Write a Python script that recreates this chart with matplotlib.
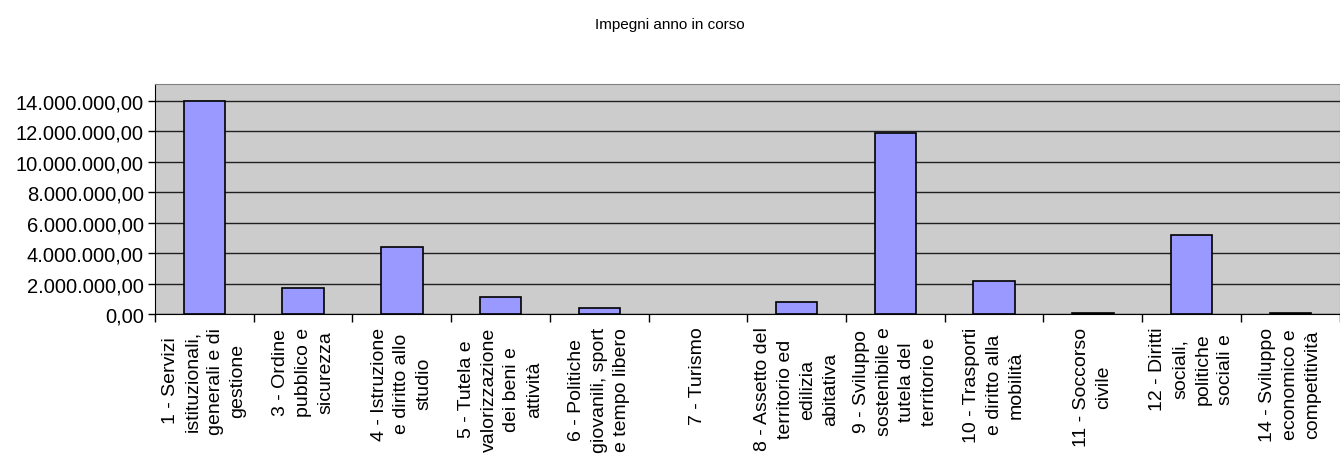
import matplotlib.pyplot as plt
from matplotlib.ticker import FuncFormatter, FixedLocator

plt.rcParams['font.family'] = ['Liberation Sans', 'DejaVu Sans']

# categories (wrapped as in the original sheet)
categories = [
    "1 - Servizi\nistituzionali,\ngenerali e di\ngestione",
    "3 - Ordine\npubblico e\nsicurezza",
    "4 - Istruzione\ne diritto allo\nstudio",
    "5 - Tutela e\nvalorizzazione\ndei beni e\nattività",
    "6 - Politiche\ngiovanili, sport\ne tempo libero",
    "7 - Turismo",
    "8 - Assetto del\nterritorio ed\nedilizia\nabitativa",
    "9 - Sviluppo\nsostenibile e\ntutela del\nterritorio e",
    "10 - Trasporti\ne diritto alla\nmobilità",
    "11 - Soccorso\ncivile",
    "12 - Diritti\nsociali,\npolitiche\nsociali e",
    "14 - Sviluppo\neconomico e\ncompetitività",
]
impegni = [14000000, 1690000, 4380000, 1120000, 370000, 0,
           790000, 11900000, 2190000, 60000, 5210000, 50000]
yticks = [0, 2e6, 4e6, 6e6, 8e6, 10e6, 12e6, 14e6]


def it_fmt(v, pos):
    s = f"{v:,.2f}"
    return s.replace(",", "X").replace(".", ",").replace("X", ".")


fig = plt.figure(figsize=(13.4, 4.64), dpi=100)
ax = fig.add_axes([0.1157, 0.321, 0.884, 0.496])
ax.set_facecolor("#cccccc")

x = list(range(len(categories)))
ax.bar(x, impegni, width=0.42, color="#9999ff", edgecolor="black",
       linewidth=[1.2 if v > 0 else 0 for v in impegni], zorder=3)

ax.set_xlim(-0.5, len(categories) - 0.5)
ax.set_ylim(0, 15.1e6)
ax.set_yticks(yticks)
ax.yaxis.set_major_formatter(FuncFormatter(it_fmt))
ax.grid(axis="y", color="#202020", linewidth=1, zorder=1)

ax.set_xticks(x)
ax.set_xticklabels(categories, rotation=90, fontsize=14,
                   ha="center", va="top", multialignment="center",
                   linespacing=1.42)
ax.xaxis.set_minor_locator(FixedLocator([i - 0.5 for i in range(len(categories) + 1)]))
ax.tick_params(axis="x", which="major", length=0, pad=9)
ax.tick_params(axis="x", which="minor", length=6, width=1, color="black")
ax.tick_params(axis="y", length=5, width=1, labelsize=14.5, pad=3)

for side in ["top", "right"]:
    ax.spines[side].set_color("#808080")
ax.spines["left"].set_color("black")
ax.spines["bottom"].set_color("black")

fig.text(0.5, 0.946, "Impegni anno in corso", ha="center", va="center",
         fontsize=11)

fig.savefig("out.png", dpi=100)
